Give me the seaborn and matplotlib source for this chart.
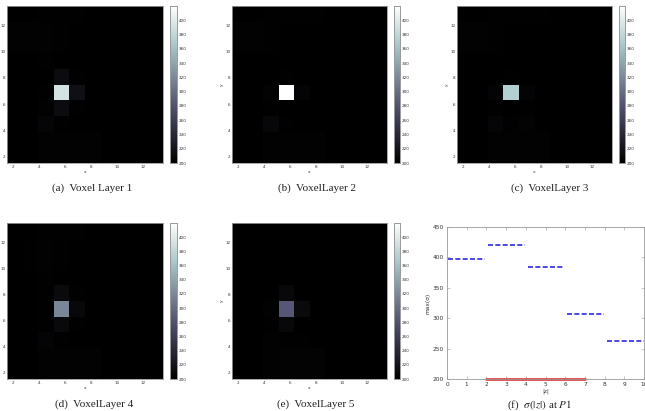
import numpy as np
import pandas as pd
import matplotlib
matplotlib.use("Agg")
import matplotlib.pyplot as plt
import seaborn as sns

# ---------------- data ----------------
# 10x10 voxel layers, rows listed top (y~12.9) to bottom (y~2.1)
layer1 = [
    [200, 200, 201, 201, 201, 200, 200, 200, 200, 200],
    [202, 202, 202, 201, 200, 200, 200, 200, 200, 200],
    [202, 202, 202, 201, 200, 200, 200, 200, 200, 200],
    [200, 200, 201, 200, 200, 200, 200, 200, 200, 200],
    [200, 200, 200, 212, 201, 200, 200, 200, 200, 200],
    [200, 200, 201, 392, 215, 200, 200, 200, 200, 200],
    [200, 200, 202, 212, 201, 200, 200, 200, 200, 200],
    [200, 200, 206, 201, 200, 200, 200, 200, 200, 200],
    [200, 200, 202, 202, 202, 202, 200, 200, 200, 200],
    [200, 200, 202, 202, 202, 202, 200, 200, 200, 200],
]
layer2 = [
    [200, 200, 201, 201, 201, 201, 200, 200, 200, 200],
    [202, 202, 201, 200, 200, 200, 200, 200, 200, 200],
    [202, 202, 201, 200, 200, 200, 200, 200, 200, 200],
    [200, 200, 200, 200, 200, 200, 200, 200, 200, 200],
    [200, 200, 200, 201, 200, 200, 200, 200, 200, 200],
    [200, 200, 203, 420, 204, 200, 200, 200, 200, 200],
    [200, 200, 201, 200, 200, 200, 200, 200, 200, 200],
    [200, 200, 207, 201, 200, 200, 200, 200, 200, 200],
    [200, 200, 202, 202, 202, 202, 200, 200, 200, 200],
    [200, 200, 202, 202, 202, 202, 200, 200, 200, 200],
]
layer3 = [
    [200, 200, 201, 201, 201, 201, 200, 200, 200, 200],
    [202, 202, 201, 200, 200, 200, 200, 200, 200, 200],
    [202, 202, 201, 200, 200, 200, 200, 200, 200, 200],
    [200, 200, 200, 200, 200, 200, 200, 200, 200, 200],
    [200, 200, 200, 201, 200, 200, 200, 200, 200, 200],
    [200, 200, 204, 372, 204, 200, 200, 200, 200, 200],
    [200, 200, 201, 200, 201, 200, 200, 200, 200, 200],
    [200, 200, 206, 201, 203, 200, 200, 200, 200, 200],
    [200, 200, 202, 202, 202, 202, 200, 200, 200, 200],
    [200, 200, 202, 202, 202, 202, 200, 200, 200, 200],
]
layer4 = [
    [200, 200, 201, 201, 201, 200, 200, 200, 200, 200],
    [200, 201, 202, 201, 200, 200, 200, 200, 200, 200],
    [200, 201, 202, 201, 200, 200, 200, 200, 200, 200],
    [200, 200, 201, 200, 200, 200, 200, 200, 200, 200],
    [200, 200, 201, 210, 201, 200, 200, 200, 200, 200],
    [200, 200, 201, 318, 208, 200, 200, 200, 200, 200],
    [200, 200, 201, 209, 201, 200, 200, 200, 200, 200],
    [200, 200, 205, 201, 200, 200, 200, 200, 200, 200],
    [200, 200, 202, 202, 202, 202, 200, 200, 200, 200],
    [200, 200, 202, 202, 202, 202, 200, 200, 200, 200],
]
layer5 = [
    [200, 200, 200, 200, 200, 200, 200, 200, 200, 200],
    [200, 200, 200, 200, 200, 200, 200, 200, 200, 200],
    [200, 200, 200, 200, 200, 200, 200, 200, 200, 200],
    [200, 200, 200, 200, 200, 200, 200, 200, 200, 200],
    [200, 200, 200, 208, 200, 200, 200, 200, 200, 200],
    [200, 200, 202, 285, 210, 200, 200, 200, 200, 200],
    [200, 200, 201, 208, 200, 200, 200, 200, 200, 200],
    [200, 200, 202, 201, 201, 200, 200, 200, 200, 200],
    [200, 200, 202, 203, 203, 203, 200, 200, 200, 200],
    [200, 200, 202, 203, 203, 203, 200, 200, 200, 200],
]
layers = [layer1, layer2, layer3, layer4, layer5]
captions = ["(a)  Voxel Layer 1", "(b)  VoxelLayer 2", "(c)  VoxelLayer 3",
            "(d)  VoxelLayer 4", "(e)  VoxelLayer 5"]
grid_lo, grid_hi = 1.5, 13.5
axis_ticks = [2, 4, 6, 8, 10, 12]
cbar_ticks = [200, 220, 240, 260, 280, 300, 320, 340, 360, 380, 400]
vmin, vmax = 200, 420

# panel (f)
seg_start = [0.05, 2.1, 4.1, 6.1, 8.1]
seg_end = [1.95, 3.95, 5.95, 7.95, 10.0]
seg_val = [398, 421, 384, 307, 262]
red_x = [2, 7]
red_y = [200, 200]
f_xticks = list(range(0, 11))
f_yticks = [200, 250, 300, 350, 400, 450]

# ---------------- style ----------------
sns.set_theme(style="white")
plt.rcParams["font.family"] = ["DejaVu Sans"]
plt.rcParams["mathtext.fontset"] = "stix"

W, H = 645, 411
fig = plt.figure(figsize=(W / 100, H / 100), dpi=100)


def rect(x0, x1, y0, y1):
    return [x0 / W, 1 - y1 / H, (x1 - x0) / W, (y1 - y0) / H]


ax_boxes = [
    (7, 163, 6, 163, 170, 177),
    (232, 387, 6, 163, 394, 400),
    (457, 612, 6, 163, 619, 625),
    (7, 163, 223, 379, 170, 177),
    (232, 387, 223, 379, 394, 400),
]
cap_pos = [(92, 188), (317, 188), (550, 188), (94, 404), (316, 404)]

edge_col = "#9a9a9a"
tick_col = "#333333"

for data, cap, box, cp in zip(layers, captions, ax_boxes, cap_pos):
    x0, x1, y0, y1, c0, c1 = box
    ax = fig.add_axes(rect(x0, x1, y0, y1))
    cax = fig.add_axes(rect(c0, c1, y0, y1))
    arr = np.array(data, dtype=float)
    nrow, ncol = arr.shape
    cell = (grid_hi - grid_lo) / ncol
    sns.heatmap(arr, ax=ax, cbar_ax=cax, cmap="bone", vmin=vmin, vmax=vmax,
                xticklabels=False, yticklabels=False)
    ax.set_xticks([(v - grid_lo) / cell for v in axis_ticks])
    ax.set_xticklabels([str(v) for v in axis_ticks])
    ax.set_yticks([(grid_hi - v) / cell for v in axis_ticks])
    ax.set_yticklabels([str(v) for v in axis_ticks], rotation=0)
    ax.tick_params(axis="both", direction="in", length=1.5, width=0.4,
                   colors=edge_col, labelcolor=tick_col, labelsize=3.0, pad=1.2,
                   bottom=True, left=True)
    for sp in ax.spines.values():
        sp.set_visible(True)
        sp.set_color(edge_col)
        sp.set_linewidth(0.6)
    ax.set_xlabel("x", fontsize=3.2, color=tick_col, labelpad=1)
    ax.set_ylabel("y", fontsize=3.2, color=tick_col, labelpad=1)
    cax.set_yticks(cbar_ticks)
    cax.set_yticklabels([str(v) for v in cbar_ticks])
    cax.tick_params(axis="y", direction="in", length=1.5, width=0.4,
                    colors=edge_col, labelcolor=tick_col, labelsize=3.0, pad=1.5)
    for sp in cax.spines.values():
        sp.set_visible(True)
        sp.set_color(edge_col)
        sp.set_linewidth(0.6)
    cax.set_frame_on(True)
    fig.text(cp[0] / W, 1 - cp[1] / H, cap, ha="center", va="center",
             fontsize=8, family="Liberation Serif", color="#222222")

# ---------------- panel (f) ----------------
axf = fig.add_axes(rect(447, 644, 227, 379))
rows = []
for i, (a, b, v) in enumerate(zip(seg_start, seg_end, seg_val)):
    rows.append({"seg": i, "z": a, "s": v})
    rows.append({"seg": i, "z": b, "s": v})
df = pd.DataFrame(rows)
sns.lineplot(data=df, x="z", y="s", units="seg", estimator=None, ax=axf,
             color="#2a2ae0", linewidth=1.2, dashes=False, sort=False)
for ln in axf.get_lines():
    ln.set_dashes((3.0, 1.4))
red_df = pd.DataFrame({"z": red_x, "s": red_y})
sns.lineplot(data=red_df, x="z", y="s", ax=axf, color="#e02020", linewidth=1.8)
axf.get_lines()[-1].set_clip_on(False)
axf.set_xlim(0, 10)
axf.set_ylim(200, 450)
axf.set_xticks(f_xticks)
axf.set_xticklabels([str(v) for v in f_xticks])
axf.set_yticks(f_yticks)
axf.set_yticklabels([str(v) for v in f_yticks])
axf.tick_params(axis="both", direction="in", length=2, width=0.4,
                colors=edge_col, labelcolor=tick_col, labelsize=4.2, pad=2,
                top=True, right=True, bottom=True, left=True)
for sp in axf.spines.values():
    sp.set_visible(True)
    sp.set_color(edge_col)
    sp.set_linewidth(0.6)
axf.set_xlabel("|z|", fontsize=4, color=tick_col, labelpad=1)
axf.set_ylabel("max(σ)", fontsize=4.2, color=tick_col, labelpad=2)
fig.text(540 / W, 1 - 405 / H, r"(f)  $\sigma(|z|)$ at $P1$", ha="center",
         va="center", fontsize=8, family="Liberation Serif", color="#222222")

fig.savefig("out.png", dpi=100)
